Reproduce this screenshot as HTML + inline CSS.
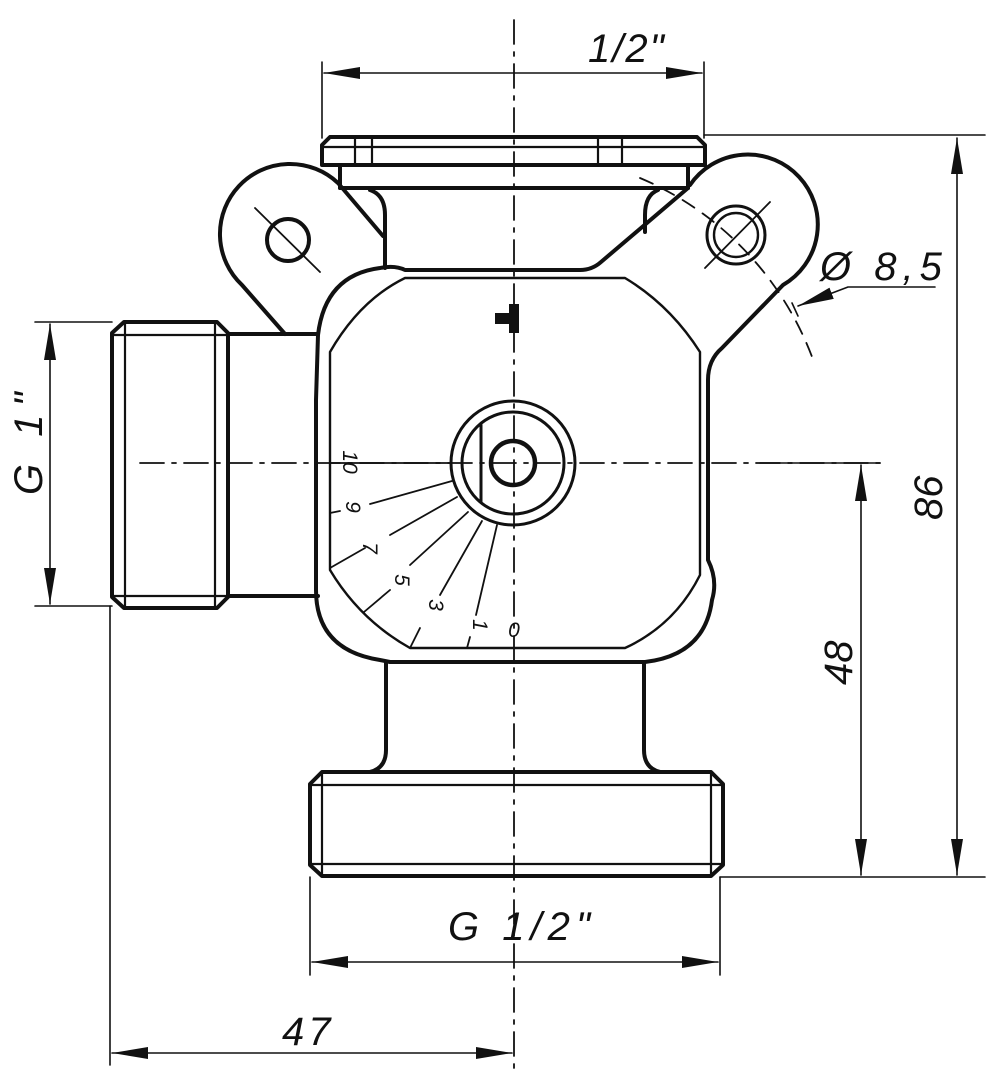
<!DOCTYPE html>
<html><head><meta charset="utf-8"><style>
html,body{margin:0;padding:0;background:#fff;}
svg{display:block;}
text{font-family:"Liberation Sans",sans-serif;font-style:italic;fill:#111;}
</style></head><body>
<svg width="988" height="1080" viewBox="0 0 988 1080" xmlns="http://www.w3.org/2000/svg">
<defs>
<marker id="a" viewBox="0 0 36 12" refX="36" refY="6" markerWidth="36" markerHeight="12" markerUnits="userSpaceOnUse" orient="auto-start-reverse">
<path d="M0,0 L36,6 L0,12 z" fill="#111"/></marker>
</defs>
<g fill="none" stroke="#111" stroke-linecap="round" stroke-linejoin="round">
<!-- center lines -->
<g stroke-width="1.8" stroke-dasharray="24,8,4,8">
<line x1="514" y1="20" x2="514" y2="1075"/>
<line x1="140" y1="463" x2="880" y2="463"/>
</g>
<path d="M640 178 A316 316 0 0 1 815 365" stroke-width="1.8" stroke-dasharray="14,10"/>
<g stroke-width="1.8">
<line x1="255" y1="208" x2="320" y2="272"/>
<line x1="705" y1="268" x2="770" y2="202"/>
</g>
<!-- dimensions -->
<g stroke-width="1.6">
<line x1="322" y1="62" x2="322" y2="138"/>
<line x1="704" y1="62" x2="704" y2="138"/>
<line x1="324" y1="73" x2="702" y2="73" marker-start="url(#a)" marker-end="url(#a)"/>
<line x1="704" y1="135" x2="985" y2="135"/>
<line x1="720" y1="877" x2="985" y2="877"/>
<line x1="957" y1="138" x2="957" y2="875" marker-start="url(#a)" marker-end="url(#a)"/>
<line x1="861" y1="465" x2="861" y2="875" marker-start="url(#a)" marker-end="url(#a)"/>
<line x1="760" y1="463" x2="880" y2="463"/>
<line x1="35" y1="322" x2="112" y2="322"/>
<line x1="35" y1="606" x2="112" y2="606"/>
<line x1="50" y1="324" x2="50" y2="604" marker-start="url(#a)" marker-end="url(#a)"/>
<line x1="310" y1="877" x2="310" y2="975"/>
<line x1="720" y1="877" x2="720" y2="975"/>
<line x1="312" y1="962" x2="718" y2="962" marker-start="url(#a)" marker-end="url(#a)"/>
<line x1="110" y1="606" x2="110" y2="1065"/>
<line x1="112" y1="1053" x2="512" y2="1053" marker-start="url(#a)" marker-end="url(#a)"/>
<polyline points="935,287 848,287 798,306" marker-end="url(#a)"/>
<line x1="792" y1="303" x2="798" y2="316"/>
</g>
<!-- top flange -->
<g stroke-width="4">
<path d="M322 165 L322 145 L330 137 L697 137 L705 145 L705 165 Z"/>
<line x1="340" y1="165" x2="340" y2="188"/>
<line x1="688" y1="165" x2="688" y2="188"/>
<line x1="340" y1="188" x2="688" y2="188"/>
</g>
<g stroke-width="2.2">
<line x1="322" y1="147" x2="705" y2="147"/>
<line x1="355" y1="138" x2="355" y2="165"/>
<line x1="372" y1="138" x2="372" y2="165"/>
<line x1="598" y1="138" x2="598" y2="165"/>
<line x1="622" y1="138" x2="622" y2="165"/>
</g>
<!-- ears and neck -->
<g stroke-width="4">
<path d="M285 334 L242 285 A68 68 0 1 1 338 183 L383 236"/>
<path d="M370 190 Q385 195 385 215 L385 268"/>
<path d="M658 190 Q645 195 645 215 L645 232"/>
<path d="M688 188 L601 262 Q592 270 580 270 L405 270 Q395 265 380 268 Q325 275 318 335 L316 400 L316 590 Q316 650 380 660 L390 662 L645 662 Q705 655 712 600 Q718 580 708 560 L708 380 Q708 360 722 348 L783 285 A70 70 0 1 0 690 185"/>
<circle cx="288" cy="240" r="21"/>
<circle cx="736" cy="235" r="29" stroke-width="3"/>
<circle cx="736" cy="235" r="22" stroke-width="2.4"/>
</g>
<!-- inner octagon -->
<path stroke-width="2.4" d="M405 278 L625 278 Q670 305 700 352 L700 575 Q675 625 625 648 L410 648 Q360 620 330 570 L330 352 Q360 300 405 278 Z"/>
<!-- left fitting -->
<g stroke-width="4">
<path d="M124 322 L217 322 L228 333 L228 597 L217 608 L124 608 L112 597 L112 333 Z"/>
<path d="M228 334 L318 334 M228 596 L318 596"/>
</g>
<g stroke-width="2.2">
<line x1="125" y1="322" x2="125" y2="608"/>
<line x1="215" y1="322" x2="215" y2="608"/>
<line x1="112" y1="335" x2="228" y2="335"/>
<line x1="112" y1="596" x2="228" y2="596"/>
</g>
<!-- bottom neck and nut -->
<g stroke-width="4">
<path d="M386 662 L386 750 Q386 768 370 772"/>
<path d="M644 662 L644 750 Q644 768 660 772"/>
<path d="M322 772 L711 772 L723 784 L723 865 L711 876 L322 876 L310 865 L310 784 Z"/>
</g>
<g stroke-width="2.2">
<line x1="310" y1="785" x2="723" y2="785"/>
<line x1="310" y1="864" x2="723" y2="864"/>
<line x1="322" y1="772" x2="322" y2="876"/>
<line x1="711" y1="772" x2="711" y2="876"/>
</g>
<!-- dial -->
<circle cx="513" cy="463" r="62" stroke-width="3"/>
<circle cx="513" cy="463" r="51" stroke-width="3"/>
<circle cx="513" cy="463" r="22" stroke-width="4.5"/>
<line x1="481" y1="425" x2="481" y2="502" stroke-width="3"/>
<g stroke-width="1.8">
<line x1="330" y1="463" x2="451" y2="463"/>
<line x1="452" y1="481" x2="370" y2="504"/>
<line x1="340" y1="511" x2="330" y2="513"/>
<line x1="457" y1="497" x2="390" y2="535"/>
<line x1="365" y1="548" x2="330" y2="568"/>
<line x1="468" y1="512" x2="410" y2="565"/>
<line x1="390" y1="590" x2="364" y2="612"/>
<line x1="482" y1="521" x2="440" y2="595"/>
<line x1="420" y1="628" x2="410" y2="648"/>
<line x1="497" y1="525" x2="476" y2="615"/>
<line x1="470" y1="637" x2="467" y2="648"/>
</g>
</g>
<!-- T mark -->
<rect x="509" y="304" width="10" height="29" fill="#111"/>
<rect x="495" y="313" width="20" height="11" fill="#111"/>
<!-- dial numbers -->
<g style="font-style:normal;font-size:21px">
<text transform="translate(343,462) rotate(90)" text-anchor="middle">10</text>
<text transform="translate(346,507) rotate(90)" text-anchor="middle">9</text>
<text transform="translate(363,548) rotate(90)" text-anchor="middle">7</text>
<text transform="translate(395,580) rotate(90)" text-anchor="middle">5</text>
<text transform="translate(429,605) rotate(90)" text-anchor="middle">3</text>
<text transform="translate(473,625) rotate(90)" text-anchor="middle">1</text>
<text x="514" y="637" text-anchor="middle">0</text>
</g>
<!-- dimension texts -->
<g font-size="40" style="font-weight:normal">
<text x="588" y="62" letter-spacing="2">1/2"</text>
<text x="448" y="940" letter-spacing="6">G 1/2"</text>
<text x="282" y="1045" letter-spacing="4">47</text>
<text transform="translate(42,495) rotate(-90)" letter-spacing="8">G 1"</text>
<text transform="translate(852,685) rotate(-90)">48</text>
<text transform="translate(942,520) rotate(-90)">86</text>
<text x="820" y="280" letter-spacing="6">Ø 8,5</text>
</g>
</svg>
</body></html>
